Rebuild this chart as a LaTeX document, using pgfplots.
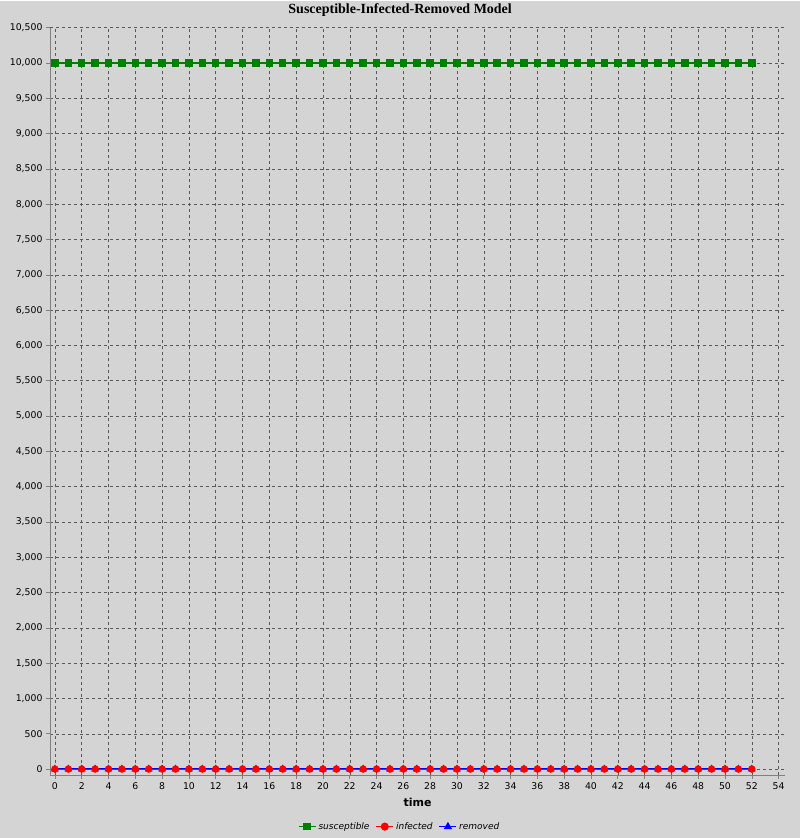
\documentclass[border=0pt]{standalone}
\usepackage{fontspec}
\setmainfont{DejaVu Sans}
\newfontfamily\titlefont{Liberation Serif}
\usepackage{pgfplots}
\pgfplotsset{compat=1.18}
\definecolor{bg}{HTML}{D4D4D4}
\definecolor{sgreen}{HTML}{008000}
\definecolor{axgray}{HTML}{808080}
\begin{document}
\begin{tikzpicture}
\fill[bg] (-50pt,-63pt) rectangle (751pt,775pt);
\node[font=\titlefont\bfseries\fontsize{14}{16}\selectfont] at (350.5pt,766pt) {Susceptible-Infected-Removed Model};
\begin{axis}[
    at={(0,0)}, anchor=south west,
    scale only axis,
    width=736pt, height=748pt,
    xmin=-0.37, xmax=54.5,
    ymin=-85, ymax=10500,
    xtick={0,2,...,54},
    ytick={0,500,...,10500},
    axis x line*=bottom, axis y line*=left,
    axis line style={axgray, line width=0.8pt, -},
    tick style={axgray, line width=0.6pt},
    tick align=outside,
    major tick length=4pt,
    grid=major,
    grid style={dashed, gray!70!black, line width=0.5pt},
    tick label style={font=\fontsize{9.3}{11}\selectfont},
    /pgf/number format/assume math mode=true,
    /pgf/number format/.cd, 1000 sep={,},
    /pgfplots/.cd,
    scaled y ticks=false,
    xlabel={\bfseries time},
    xlabel style={font=\fontsize{11}{13}\selectfont, yshift=-2pt},
    legend columns=3,
    legend style={at={(0.4755,-0.069)}, anchor=center, draw=none, fill=none,
        font=\itshape\fontsize{9}{11}\selectfont,
        /tikz/every even column/.append style={column sep=4pt}},
]
\addlegendimage{sgreen, line width=1.5pt, mark=square*, mark size=3pt}
\addlegendentry{susceptible}
\addlegendimage{red, line width=1.5pt, mark=*, mark size=3.3pt}
\addlegendentry{infected}
\addlegendimage{blue, line width=1.5pt, mark=triangle*, mark size=3.3pt}
\addlegendentry{removed}
\addplot[forget plot, sgreen, line width=1.5pt, mark=square*, mark size=3pt] coordinates {
(0,10000)(1,10000)(2,10000)(3,10000)(4,10000)(5,10000)(6,10000)(7,10000)(8,10000)(9,10000)
(10,10000)(11,10000)(12,10000)(13,10000)(14,10000)(15,10000)(16,10000)(17,10000)(18,10000)(19,10000)
(20,10000)(21,10000)(22,10000)(23,10000)(24,10000)(25,10000)(26,10000)(27,10000)(28,10000)(29,10000)
(30,10000)(31,10000)(32,10000)(33,10000)(34,10000)(35,10000)(36,10000)(37,10000)(38,10000)(39,10000)
(40,10000)(41,10000)(42,10000)(43,10000)(44,10000)(45,10000)(46,10000)(47,10000)(48,10000)(49,10000)
(50,10000)(51,10000)(52,10000)};
\addplot[forget plot, blue, line width=1.2pt, mark=triangle*, mark size=3.3pt] coordinates {
(0,0)(1,0)(2,0)(3,0)(4,0)(5,0)(6,0)(7,0)(8,0)(9,0)
(10,0)(11,0)(12,0)(13,0)(14,0)(15,0)(16,0)(17,0)(18,0)(19,0)
(20,0)(21,0)(22,0)(23,0)(24,0)(25,0)(26,0)(27,0)(28,0)(29,0)
(30,0)(31,0)(32,0)(33,0)(34,0)(35,0)(36,0)(37,0)(38,0)(39,0)
(40,0)(41,0)(42,0)(43,0)(44,0)(45,0)(46,0)(47,0)(48,0)(49,0)
(50,0)(51,0)(52,0)};
\addplot[forget plot, red, line width=1pt, mark=*, mark size=3.2pt] coordinates {
(0,0)(1,0)(2,0)(3,0)(4,0)(5,0)(6,0)(7,0)(8,0)(9,0)
(10,0)(11,0)(12,0)(13,0)(14,0)(15,0)(16,0)(17,0)(18,0)(19,0)
(20,0)(21,0)(22,0)(23,0)(24,0)(25,0)(26,0)(27,0)(28,0)(29,0)
(30,0)(31,0)(32,0)(33,0)(34,0)(35,0)(36,0)(37,0)(38,0)(39,0)
(40,0)(41,0)(42,0)(43,0)(44,0)(45,0)(46,0)(47,0)(48,0)(49,0)
(50,0)(51,0)(52,0)};
\end{axis}
\end{tikzpicture}
\end{document}
